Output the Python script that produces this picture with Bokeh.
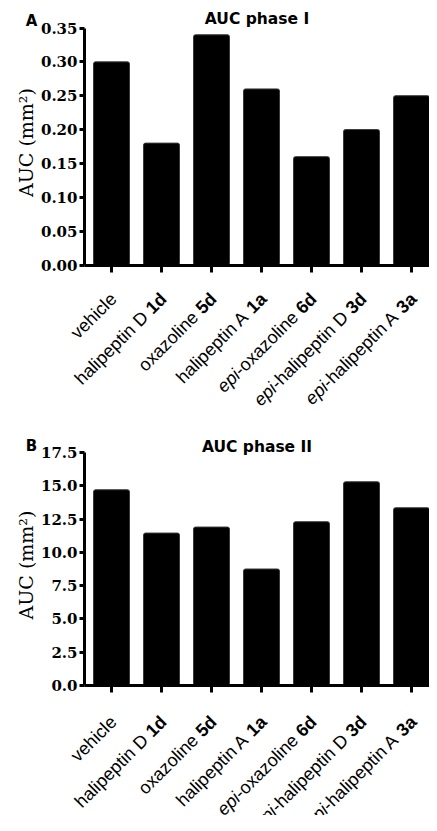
import math
from bokeh.plotting import figure
from bokeh.models import ColumnDataSource, LabelSet, Label, FixedTicker, Range1d, PrintfTickFormatter
from bokeh.layouts import column
from bokeh.embed import file_html
from bokeh.resources import INLINE
from bokeh.core.properties import value

# ---- data ----
names = ["vehicle", "halipeptin D", "oxazoline", "halipeptin A",
         "epi-oxazoline", "epi-halipeptin D", "epi-halipeptin A"]
compounds = ["", "1d", "5d", "1a", "6d", "3d", "3a"]
auc_phase1 = [0.30, 0.18, 0.34, 0.26, 0.16, 0.20, 0.25]
auc_phase2 = [14.7, 11.45, 11.9, 8.75, 12.3, 15.3, 13.35]
ticks_phase1 = [0.0, 0.05, 0.10, 0.15, 0.20, 0.25, 0.30, 0.35]
ticks_phase2 = [0.0, 2.5, 5.0, 7.5, 10.0, 12.5, 15.0, 17.5]
titles = ["AUC phase I", "AUC phase II"]
letters = ["A", "B"]
y_label = "AUC (mm\u00b2)"

# ---- style / layout ----
FIG_W = 429
AXIS_PX = 84          # x pixel of the y axis inside the figure
FIRST_PX = 111        # x pixel of the first category centre
CAT_PX = 50           # pixels per category
LABEL_PX = 18
LABEL_FONT = "Liberation Sans"
W_REG = {' ': 278, '-': 333, 'A': 667, 'D': 722, 'a': 556, 'c': 500, 'd': 556,
         'e': 556, 'h': 556, 'i': 222, 'l': 222, 'n': 556, 'o': 556, 'p': 556,
         't': 278, 'v': 500, 'x': 500, 'z': 500}
W_BOLD = {'a': 556, 'd': 611}


def text_width(s, bold=False):
    tab = W_BOLD if bold else W_REG
    return sum(tab.get(ch, 556) for ch in s) * LABEL_PX / 1000.0


def label_parts(name, comp):
    parts = []
    if name.startswith("epi-"):
        parts.append(("epi", "italic"))
        parts.append((name[3:], "normal"))
    else:
        parts.append((name, "normal"))
    if comp:
        parts.append((comp, "bold"))
    return parts


def segment_source(base_dx, base_dy):
    c = math.cos(math.pi / 4)
    xs, txt, sty, xo, yo = [], [], [], [], []
    for i, (n, comp) in enumerate(zip(names, compounds)):
        parts = label_parts(n, comp)
        w = 0.0
        for k in range(len(parts) - 1, -1, -1):
            s, st = parts[k]
            xs.append(i)
            txt.append(s)
            sty.append(st)
            xo.append(base_dx - w * c)
            yo.append(base_dy - w * c)
            w += text_width(s, st == "bold")
            if k > 0 and st == "bold":
                w += text_width(" ")
    return ColumnDataSource(dict(x=xs, y=[0.0] * len(xs), text=txt, style=sty, xo=xo, yo=yo))


def panel(values, ticks, fmt, letter, title, height, top, frame_h,
          lab_dy, title_dy, letter_dy):
    ymax = ticks[-1]
    xr0 = -FIRST_PX / CAT_PX
    xr1 = (FIG_W - FIRST_PX) / CAT_PX
    x_axis0 = (AXIS_PX - FIRST_PX) / CAT_PX
    yr0 = -(height - top - frame_h) / frame_h * ymax
    yr1 = ymax + top / frame_h * ymax
    p = figure(width=FIG_W, height=height, x_range=Range1d(xr0, xr1),
               y_range=Range1d(yr0, yr1), output_backend="svg",
               toolbar_location=None, min_border=0)
    p.title.visible = False
    p.outline_line_color = None
    p.xgrid.visible = False
    p.ygrid.visible = False
    p.background_fill_color = "white"
    p.border_fill_color = "white"

    xs = list(range(len(values)))
    p.vbar(x=xs, top=values, bottom=0, width=0.72, fill_color="black",
           line_color="#3a3a3a", line_width=1, border_radius=2)

    ya = p.yaxis[0]
    ya.fixed_location = x_axis0
    ya.bounds = (0, ymax)
    ya.ticker = FixedTicker(ticks=ticks)
    ya.formatter = PrintfTickFormatter(format=fmt)
    ya.axis_line_width = 3
    ya.major_tick_line_width = 3
    ya.major_tick_out = 5
    ya.major_tick_in = 0
    ya.minor_tick_line_color = None
    ya.major_label_standoff = 2
    ya.major_label_text_font = "DejaVu Serif"
    ya.major_label_text_font_style = "bold"
    ya.major_label_text_font_size = "15px"
    ya.major_label_text_color = "black"

    xa = p.xaxis[0]
    xa.fixed_location = 0
    xa.bounds = (x_axis0, xr1)
    xa.ticker = FixedTicker(ticks=xs)
    xa.axis_line_width = 3
    xa.major_tick_line_width = 3
    xa.major_tick_out = 7
    xa.major_tick_in = 0
    xa.minor_tick_line_color = None
    xa.major_label_text_color = None

    src = segment_source(2, lab_dy)
    p.add_layout(LabelSet(x="x", y="y", text="text", source=src,
                          x_offset="xo", y_offset="yo", angle=math.pi / 4,
                          text_align="right", text_baseline="middle",
                          text_font=value(LABEL_FONT), text_font_size=value(f"{LABEL_PX}px"),
                          text_font_style="style", text_color="black"))

    p.add_layout(Label(x=(x_axis0 + xr1) / 2, y=ymax, y_offset=title_dy, text=title,
                       text_align="center", text_baseline="alphabetic",
                       text_font="DejaVu Sans", text_font_style="bold",
                       text_font_size="15.5px", text_color="black"))
    p.add_layout(Label(x=x_axis0, y=ymax, x_offset=-53, y_offset=letter_dy, text=letter,
                       text_align="center", text_baseline="alphabetic",
                       text_font="DejaVu Sans", text_font_style="bold",
                       text_font_size="15px", text_color="black"))
    p.add_layout(Label(x=x_axis0, y=ymax / 2, x_offset=-59, y_offset=4, text=y_label,
                       angle=math.pi / 2, text_align="center", text_baseline="middle",
                       text_font="DejaVu Serif", text_font_size="19px",
                       text_color="black"))
    return p


p1 = panel(auc_phase1, ticks_phase1, "%.2f", letters[0], titles[0],
           height=413, top=27.5, frame_h=237, lab_dy=-31, title_dy=9.5, letter_dy=7.5)
p2 = panel(auc_phase2, ticks_phase2, "%.1f", letters[1], titles[1],
           height=402, top=39, frame_h=233, lab_dy=-33.5, title_dy=6, letter_dy=7)

layout = column(p1, p2, spacing=0)
open("out.html", "w").write(file_html(layout, INLINE))
